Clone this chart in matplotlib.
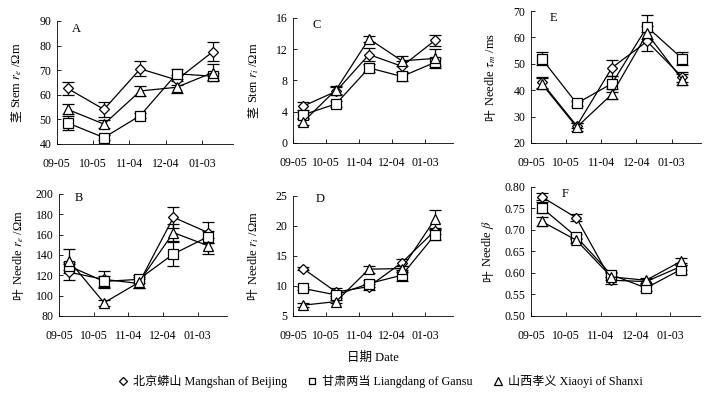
import numpy as np
import matplotlib
matplotlib.use('Agg')
import matplotlib.pyplot as plt
from matplotlib.lines import Line2D

plt.rcParams['font.family'] = ['Liberation Serif', 'Noto Sans CJK SC']
plt.rcParams['mathtext.fontset'] = 'stix'
plt.rcParams['font.size'] = 8.5

dates = ['09-05', '10-05', '11-04', '12-04', '01-03']
sites = ['北京蟒山 Mangshan of Beijing', '甘肃两当 Liangdang of Gansu', '山西孝义 Xiaoyi of Shanxi']

# panel A: stem r_e
a_bj = [62.5, 54.0, 70.5, 66.0, 77.5]
a_bj_err = [2.5, 3.0, 3.0, 2.0, 4.0]
a_gs = [48.5, 42.5, 51.5, 68.5, 67.5]
a_gs_err = [3.0, 1.0, 1.0, 2.0, 1.5]
a_sx = [54.0, 48.0, 61.5, 63.0, 69.0]
a_sx_err = [2.0, 1.5, 2.0, 2.5, 3.5]

# panel C: stem r_i
c_bj = [4.7, 6.6, 11.3, 9.8, 13.1]
c_bj_err = [0.5, 0.5, 0.8, 0.7, 0.7]
c_gs = [3.6, 5.0, 9.6, 8.5, 10.3]
c_gs_err = [0.4, 0.4, 0.5, 0.6, 0.5]
c_sx = [2.7, 6.8, 13.3, 10.5, 10.8]
c_sx_err = [0.4, 0.5, 0.4, 0.6, 1.2]

# panel E: needle tau_m
e_bj = [43.0, 26.5, 48.5, 58.5, 45.0]
e_bj_err = [2.0, 1.0, 3.0, 3.5, 2.0]
e_gs = [52.0, 35.0, 42.5, 64.0, 52.0]
e_gs_err = [2.5, 1.0, 3.0, 4.5, 2.5]
e_sx = [42.5, 26.0, 38.5, 61.5, 44.0]
e_sx_err = [2.0, 1.5, 2.0, 3.0, 2.0]

# panel B: needle r_e
b_bj = [123, 116, 112, 177, 162]
b_bj_err = [8, 8, 4, 10, 10]
b_gs = [129, 114, 116, 141, 158]
b_gs_err = [4, 5, 4, 12, 6]
b_sx = [134, 93, 113, 162, 149]
b_sx_err = [12, 3, 5, 8, 8]

# panel D: needle r_i
d_bj = [12.9, 9.0, 9.9, 13.9, 19.2]
d_bj_err = [0.3, 0.6, 0.5, 0.6, 0.5]
d_gs = [9.6, 8.5, 10.4, 11.8, 18.5]
d_gs_err = [0.3, 0.5, 0.6, 0.9, 0.9]
d_sx = [6.8, 7.4, 12.8, 12.9, 21.1]
d_sx_err = [0.3, 0.3, 0.6, 0.5, 1.6]

# panel F: needle beta
f_bj = [0.777, 0.728, 0.583, 0.580, 0.615]
f_bj_err = [0.008, 0.008, 0.008, 0.006, 0.008]
f_gs = [0.752, 0.684, 0.596, 0.565, 0.608]
f_gs_err = [0.012, 0.006, 0.006, 0.008, 0.010]
f_sx = [0.720, 0.676, 0.591, 0.583, 0.627]
f_sx_err = [0.010, 0.006, 0.008, 0.006, 0.008]

markers = ['D', 's', '^']
msizes = [5.5, 6.5, 7]

panels = [
    # letter, letter pos, rect, data, ylim, yticks, ylabel (cjk, rest), labelpad, fmt
    ('A', (0.085, 0.935), [0.080, 0.636, 0.248, 0.311],
     [(a_bj, a_bj_err), (a_gs, a_gs_err), (a_sx, a_sx_err)],
     (40, 90), np.arange(40, 91, 10), ('茎', 'Stem $r_e$ /Ωm'), 11, '%d'),
    ('C', (0.12, 0.94), [0.413, 0.638, 0.225, 0.317],
     [(c_bj, c_bj_err), (c_gs, c_gs_err), (c_sx, c_sx_err)],
     (0, 16), np.arange(0, 17, 4), ('茎', 'Sten $r_i$ /Ωm'), 11, '%d'),
    ('E', (0.11, 0.95), [0.748, 0.638, 0.240, 0.334],
     [(e_bj, e_bj_err), (e_gs, e_gs_err), (e_sx, e_sx_err)],
     (20, 70), np.arange(20, 71, 10), ('叶', 'Needle $\\tau_m$ /ms'), 11, '%d'),
    ('B', (0.095, 0.965), [0.083, 0.200, 0.237, 0.309],
     [(b_bj, b_bj_err), (b_gs, b_gs_err), (b_sx, b_sx_err)],
     (80, 200), np.arange(80, 201, 20), ('叶', 'Needle $r_e$ /Ωm'), 7, '%d'),
    ('D', (0.14, 0.975), [0.413, 0.200, 0.225, 0.304],
     [(d_bj, d_bj_err), (d_gs, d_gs_err), (d_sx, d_sx_err)],
     (5, 25), np.arange(5, 26, 5), ('叶', 'Needle $r_i$ /Ωm'), 11, '%d'),
    ('F', (0.18, 0.945), [0.748, 0.200, 0.238, 0.327],
     [(f_bj, f_bj_err), (f_gs, f_gs_err), (f_sx, f_sx_err)],
     (0.50, 0.80), np.arange(0.50, 0.801, 0.05), ('叶', 'Needle $\\beta$'), 6, '%.2f'),
]

fig = plt.figure(figsize=(7.1, 3.95), dpi=100)

x = np.arange(len(dates))
xp = x + 0.3

axes = []
for letter, lpos, rect, series, ylim, yticks, ylabel, lpad, fmt in panels:
    ax = fig.add_axes(rect)
    for (vals, errs), m, ms in zip(series, markers, msizes):
        ax.errorbar(xp, vals, yerr=errs, color='black', lw=0.9, elinewidth=0.9,
                    capsize=4, capthick=0.9, marker=m, ms=ms, mfc='white',
                    mec='black', mew=0.9)
    ax.set_xlim(0, 4.85)
    ax.set_ylim(*ylim)
    ax.set_xticks(x)
    ax.set_xticklabels(dates)
    ax.set_yticks(yticks)
    ax.set_yticklabels([fmt % v for v in yticks])
    ax.tick_params(direction='in', length=3, width=0.6, labelsize=8.5, pad=4)
    ax.tick_params(axis='x', pad=10)
    ax.spines['top'].set_visible(False)
    ax.spines['right'].set_visible(False)
    ax.spines['left'].set_linewidth(0.6)
    ax.spines['bottom'].set_linewidth(0.6)
    # mathtext can't show CJK, so the Chinese word is drawn separately below it
    ax.set_ylabel(ylabel[1], fontsize=9, labelpad=lpad)
    h_px = rect[3] * fig.get_figheight() * fig.dpi
    ax.yaxis.label.set_y(0.5 + 7.5 / h_px)
    ax.text(lpos[0], lpos[1], letter, transform=ax.transAxes, fontsize=9,
            va='center', ha='left')
    axes.append((ax, ylabel[0]))

fig.canvas.draw()
inv = fig.transFigure.inverted()
for ax, cjk in axes:
    bb = ax.yaxis.label.get_window_extent()
    fx, fy = inv.transform(((bb.x0 + bb.x1) / 2, bb.y0 - 3))
    fig.text(fx, fy, cjk, rotation=90, ha='center', va='top', fontsize=8.5,
             family=['Noto Sans CJK SC'])

fig.text(0.525, 0.095, '日期 Date', ha='center', va='center', fontsize=9)

handles = [Line2D([], [], ls='none', marker=m, ms=s - 1.5, mfc='white', mec='black', mew=0.9)
           for m, s in zip(markers, msizes)]
fig.legend(handles, sites, loc='center', bbox_to_anchor=(0.535, 0.035), ncol=3,
           frameon=False, fontsize=8.7, handletextpad=0.3, columnspacing=1.6,
           handlelength=1.0)

fig.savefig('out.png', dpi=100)
